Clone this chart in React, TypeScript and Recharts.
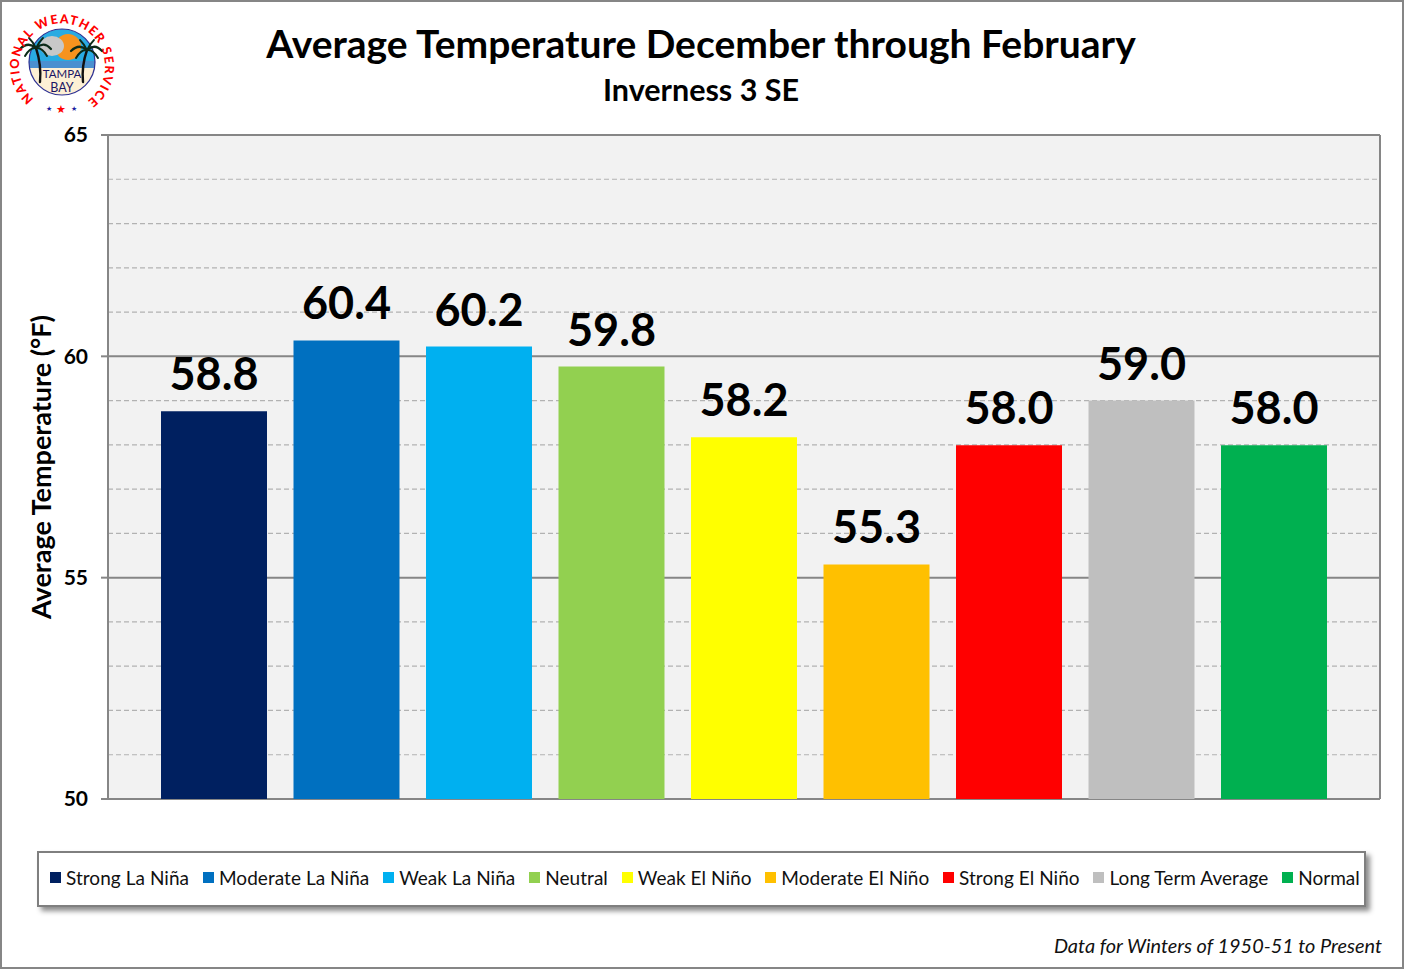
import { BarChart, Bar, XAxis, YAxis, CartesianGrid, Legend, LabelList } from 'recharts'

const seasons = [
  'Strong La Niña',
  'Moderate La Niña',
  'Weak La Niña',
  'Neutral',
  'Weak El Niño',
  'Moderate El Niño',
  'Strong El Niño',
  'Long Term Average',
  'Normal',
]
const temps = [58.76, 60.36, 60.22, 59.77, 58.17, 55.3, 57.99, 59.0, 57.99]
const colors = ['#002060', '#0070C0', '#00B0F0', '#92D050', '#FFFF00', '#FFC000', '#FF0000', '#BFBFBF', '#00B050']
const majorTicks = [50, 55, 60, 65]
const minorTicks = [51, 52, 53, 54, 56, 57, 58, 59, 61, 62, 63, 64]

const row: Record<string, string | number> = { name: 'Average' }
seasons.forEach((s, i) => {
  row[s] = temps[i]
})
const data = [row]

const font = 'Lato, "Open Sans", sans-serif'

function Palm({ x, y, baseX, baseY }: { x: number; y: number; baseX: number; baseY: number }) {
  return (
    <g fill="none" stroke="#0c2a18" strokeLinecap="round">
      <path d={`M ${baseX} ${baseY} Q ${x + (baseX - x) * 1.4} ${(y + baseY) / 2} ${x} ${y}`} strokeWidth={2.4} stroke="#111" />
      <path d={`M ${x} ${y} Q ${x - 8} ${y - 7} ${x - 16} ${y + 1}`} strokeWidth={2.2} />
      <path d={`M ${x} ${y} Q ${x + 8} ${y - 7} ${x + 15} ${y + 1}`} strokeWidth={2.2} />
      <path d={`M ${x} ${y} Q ${x - 6} ${y - 1} ${x - 11} ${y + 8}`} strokeWidth={2} />
      <path d={`M ${x} ${y} Q ${x + 6} ${y - 1} ${x + 11} ${y + 8}`} strokeWidth={2} />
      <path d={`M ${x} ${y} Q ${x - 3} ${y - 6} ${x - 7} ${y - 10}`} strokeWidth={1.8} />
      <path d={`M ${x} ${y} Q ${x + 3} ${y - 6} ${x + 7} ${y - 10}`} strokeWidth={1.8} />
    </g>
  )
}

function Logo() {
  return (
    <svg width={110} height={110} viewBox="0 0 110 110" style={{ position: 'absolute', left: 7, top: 7 }}>
      <defs>
        <path id="ring" d="M 27 92 A 43 43 0 1 1 83 92" fill="none" />
        <clipPath id="disc">
          <circle cx={55} cy={55} r={33} />
        </clipPath>
      </defs>
      <g clipPath="url(#disc)">
        <rect x={20} y={20} width={70} height={36} fill="#29abe2" />
        <rect x={20} y={54} width={70} height={7} fill="#4a90d0" />
        <rect x={20} y={61} width={70} height={30} fill="#fdf0d5" />
        <circle cx={61} cy={40} r={13} fill="#f7931e" />
        <ellipse cx={45} cy={39} rx={12} ry={10} fill="#c8c8c8" />
      </g>
      <circle cx={55} cy={55} r={33} fill="none" stroke="#2e3192" strokeWidth={1.2} />
      <Palm x={29} y={41} baseX={33} baseY={75} />
      <Palm x={80} y={43} baseX={76} baseY={75} />
      <text x={55} y={71} textAnchor="middle" fontFamily={font} fontSize={11.5} fill="#1b1464">TAMPA</text>
      <text x={55} y={85} textAnchor="middle" fontFamily={font} fontSize={12.5} fill="#1b1464">BAY</text>
      <text fontFamily={font} fontSize={12.5} fontWeight={900} fill="#FF0000">
        <textPath href="#ring" textLength={212} lengthAdjust="spacing">NATIONAL WEATHER SERVICE</textPath>
      </text>
      <text x={42} y={104} textAnchor="middle" fontSize={7} fill="#1b1ea0">★</text>
      <text x={54} y={106} textAnchor="middle" fontSize={11} fill="#FF0000">★</text>
      <text x={67} y={104} textAnchor="middle" fontSize={7} fill="#1b1ea0">★</text>
    </svg>
  )
}

function SeasonLegend({ payload }: any) {
  return (
    <div
      style={{
        boxSizing: 'border-box',
        width: 1329,
        height: 56,
        background: '#fff',
        border: '2px solid #7f7f7f',
        boxShadow: '4px 4px 5px rgba(0,0,0,0.45)',
        display: 'flex',
        alignItems: 'center',
        justifyContent: 'space-between',
        paddingLeft: 11,
        paddingRight: 4,
        paddingBottom: 4,
        fontFamily: font,
        fontSize: 19,
        letterSpacing: 0.05,
        color: '#111',
        whiteSpace: 'nowrap',
      }}
    >
      {(payload || []).map((p: any) => (
        <span key={p.value} style={{ display: 'flex', alignItems: 'center' }}>
          <span style={{ width: 11, height: 11, background: p.color, marginRight: 5 }} />
          {p.value}
        </span>
      ))}
    </div>
  )
}

export default function App() {
  return (
    <div style={{ position: 'absolute', left: 0, top: 0, width: 1404, height: 969, background: '#fff', overflow: 'hidden' }}>
      <BarChart
        width={1404}
        height={969}
        data={data}
        margin={{ top: 135, right: 24, bottom: 170, left: 0 }}
        barGap={26.5}
        barCategoryGap={53}
      >
        <CartesianGrid
          fill="#F2F2F2"
          horizontalValues={minorTicks}
          vertical={false}
          stroke="#B2B2B2"
          strokeDasharray="5 3"
          strokeWidth={1.2}
        />
        <CartesianGrid
          horizontalValues={majorTicks}
          verticalCoordinatesGenerator={({ offset }: any) => [offset.left, offset.left + offset.width]}
          stroke="#868686"
          strokeWidth={2}
        />
        <XAxis dataKey="name" hide />
        <YAxis
          width={108}
          domain={[50, 65]}
          ticks={majorTicks}
          interval={0}
          stroke="#868686"
          strokeWidth={2}
          tickSize={7}
          tickMargin={13}
          tick={{ fill: '#000', fontFamily: font, fontWeight: 700, fontSize: 21 }}
          label={{
            value: 'Average Temperature (°F)',
            angle: -90,
            position: 'insideLeft',
            dx: 36,
            dy: 0,
            style: { fill: '#000', fontFamily: font, fontWeight: 700, fontSize: 27, textAnchor: 'middle' },
          }}
        />
        <Legend
          layout="horizontal"
          verticalAlign="middle"
          align="center"
          itemSorter={null}
          content={<SeasonLegend />}
          wrapperStyle={{ left: 37, top: 851, width: 1329 }}
        />
        {seasons.map((s, i) => (
          <Bar key={s} dataKey={s} name={s} fill={colors[i]} isAnimationActive={false}>
            <LabelList
              dataKey={s}
              position="top"
              offset={21}
              formatter={(v: any) => Number(v).toFixed(1)}
              style={{ fill: '#000', fontFamily: font, fontWeight: 700, fontSize: 45 }}
            />
          </Bar>
        ))}
      </BarChart>

      <div style={{ position: 'absolute', left: 0, top: 16, width: 1404, paddingRight: 2, boxSizing: 'border-box', textAlign: 'center', fontFamily: font, fontWeight: 700, fontSize: 39, lineHeight: '54px', color: '#000' }}>
        Average Temperature December through February
      </div>
      <div style={{ position: 'absolute', left: 0, top: 71, width: 1404, paddingRight: 2, boxSizing: 'border-box', textAlign: 'center', fontFamily: font, fontWeight: 700, fontSize: 30.5, lineHeight: '36px', color: '#000' }}>
        Inverness 3 SE
      </div>
      <div style={{ position: 'absolute', right: 22, top: 932, fontFamily: font, fontStyle: 'italic', fontSize: 19.9, lineHeight: '26px', color: '#111' }}>
        Data for Winters of 1950-51 to Present
      </div>
      <Logo />
      <div style={{ position: 'absolute', left: 0, top: 0, width: 1404, height: 969, boxSizing: 'border-box', border: '2px solid #868686', pointerEvents: 'none' }} />
    </div>
  )
}
